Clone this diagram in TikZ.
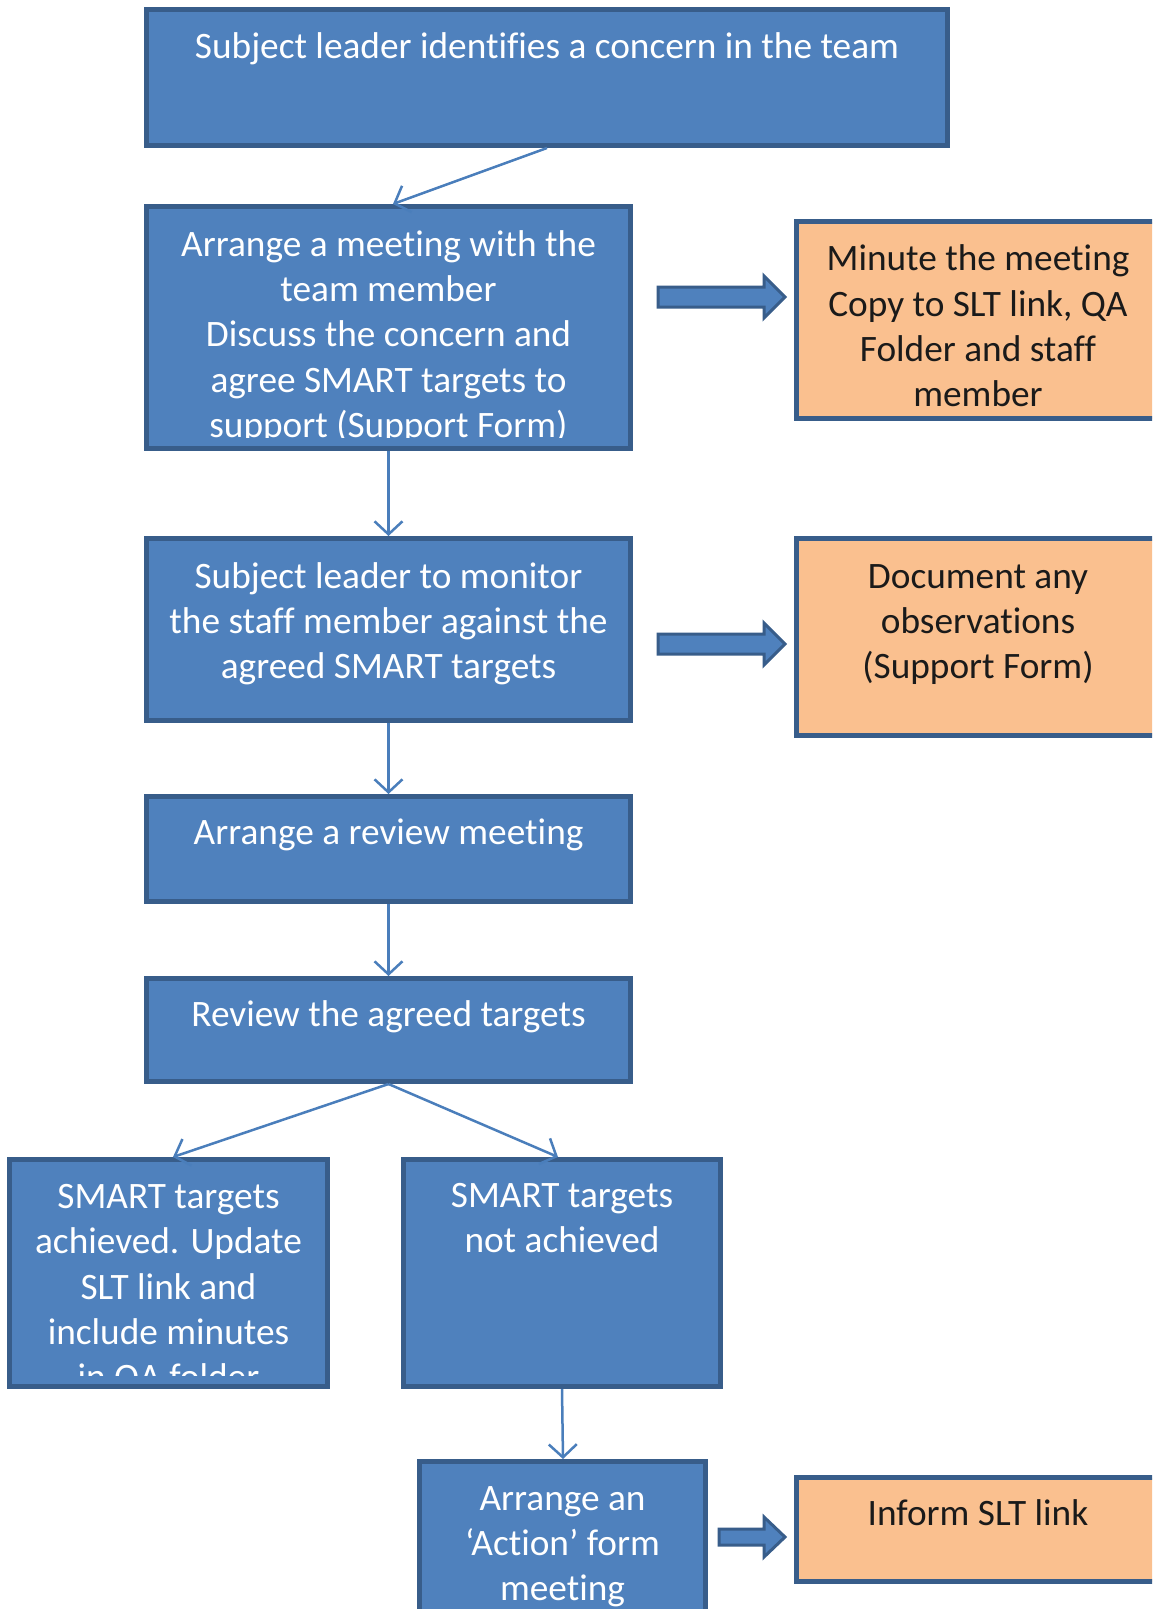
\documentclass[tikz,border=0pt]{standalone}
\usepackage{fontspec}
\setmainfont[Ligatures=CommonOff]{Carlito}
\usetikzlibrary{arrows.meta}
\definecolor{bfill}{HTML}{4F81BD}
\definecolor{bline}{HTML}{385D8A}
\definecolor{ofill}{HTML}{FAC08F}
\definecolor{conncol}{HTML}{4A7EBB}
\definecolor{otext}{HTML}{1A1A1A}
\tikzset{
  box/.style={rectangle, line width=5pt, draw=bline, inner sep=0pt},
  bluebox/.style={box, fill=bfill},
  orangebox/.style={box, fill=ofill},
  txt/.style={anchor=north, inner sep=0pt, align=center,
    font=\fontsize{37.3}{45.3}\selectfont},
  wtxt/.style={txt, text=white},
  otxt/.style={txt, text=otext},
  conn/.style={draw=conncol, line width=2.5pt,
    -{Straight Barb[length=13pt,width=28pt]}},
  barrow/.style={fill=bfill, draw=bline, line width=3pt, line join=miter}
}
\begin{document}
\begin{tikzpicture}[x=1pt, y=-1pt]
\clip (0,0) rectangle (1152,1609);
\fill[white] (0,0) rectangle (1152,1609);

% boxes
\node[bluebox, minimum width=801pt, minimum height=136pt] (b1) at (547,77.5) {};
\node[bluebox, minimum width=484pt, minimum height=242pt] (b2) at (388.5,327.5) {};
\node[orangebox, minimum width=363pt, minimum height=197pt] (o1) at (978,320) {};
\node[bluebox, minimum width=484pt, minimum height=182pt] (b3) at (388.5,629.5) {};
\node[orangebox, minimum width=363pt, minimum height=197pt] (o2) at (978,637) {};
\node[bluebox, minimum width=484pt, minimum height=105pt] (b4) at (388.5,849) {};
\node[bluebox, minimum width=484pt, minimum height=103pt] (b5) at (388.5,1030) {};
\node[bluebox, minimum width=318pt, minimum height=227pt] (b6) at (168.5,1273) {};
\node[bluebox, minimum width=317pt, minimum height=227pt] (b7) at (562,1273) {};
\node[bluebox, minimum width=286pt, minimum height=176pt] (b8) at (562.5,1549.5) {};
\node[orangebox, minimum width=363pt, minimum height=104pt] (o3) at (978,1529.5) {};

% texts (clipped to box interiors)
\begin{scope}
\clip (149,12) rectangle (945,134);
\node[wtxt] (t1) at (547,26.8) {\strut Subject leader identifies a concern in the team};
\end{scope}
\begin{scope}
\clip (149,209) rectangle (628,437);
\node[wtxt] (t2) at (388.5,224.3) {\strut Arrange a meeting with the\\team member\\Discuss the concern and\\agree SMART targets to\\support (Support Form)};
\end{scope}
\node[otxt] (to1) at (978,239) {\strut Minute the meeting\\Copy to SLT link, QA\\Folder and staff\\member};
\node[wtxt] (t3) at (388.5,556.3) {\strut Subject leader to monitor\\the staff member against the\\agreed SMART targets};
\node[otxt] (to2) at (978,556.3) {\strut Document any\\observations\\(Support Form)};
\node[wtxt] (t4) at (388.5,812.8) {\strut Arrange a review meeting};
\node[wtxt] (t5) at (388.5,994.3) {\strut Review the agreed targets};
\begin{scope}
\clip (12,1162) rectangle (325,1375);
\node[wtxt] (t6) at (168.5,1176.7) {\strut SMART targets\\achieved. Update\\SLT link and\\include minutes\\in QA folder};
\end{scope}
\node[wtxt] (t7) at (562,1175.5) {\strut SMART targets\\not achieved};
\node[wtxt] (t8) at (562.5,1478.3) {\strut Arrange an\\‘Action’ form\\meeting};
\node[otxt] (to3) at (978,1493.5) {\strut Inform SLT link};

% connectors
\draw[conn] (b1.south) -- ([xshift=4.5pt]b2.north);
\draw[conn] (b2.south) -- (b3.north);
\draw[conn] (b3.south) -- (b4.north);
\draw[conn] (b4.south) -- (b5.north);
\draw[conn] (b5.south) -- ([xshift=4.5pt]b6.north);
\draw[conn] (b5.south) -- ([xshift=-4pt]b7.north);
\draw[conn] (b7.south) -- ([xshift=0.5pt]b8.north);

% block arrows
\draw[barrow] (658,287) -- (764,287) -- (764,276) -- (785,297) -- (764,318)
  -- (764,307) -- (658,307) -- cycle;
\draw[barrow] (658,634) -- (764,634) -- (764,623) -- (785,644) -- (764,665)
  -- (764,654) -- (658,654) -- cycle;
\draw[barrow] (719,1529) -- (764,1529) -- (764,1517) -- (785,1537) -- (764,1557)
  -- (764,1545) -- (719,1545) -- cycle;
\end{tikzpicture}
\end{document}
